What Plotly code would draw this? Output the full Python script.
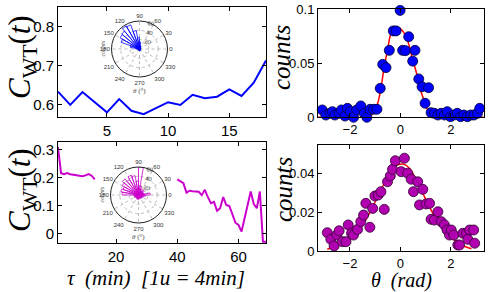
import plotly.graph_objects as go

# ---------------- data ----------------
tau_top = list(range(1, 19))
cwt_top = [0.634, 0.600, 0.633, 0.608, 0.581, 0.615, 0.585, 0.576, 0.592,
           0.607, 0.600, 0.626, 0.617, 0.621, 0.640, 0.623, 0.657, 0.714]

tau_bot = list(range(1, 70))
cwt_bot = ([0.31, 0.216, 0.212, 0.216, 0.212, 0.210, 0.207, 0.206, 0.205,
            0.208, 0.213, 0.207, 0.194]
           + [None] * 26
           + [0.194, 0.187, 0.180, 0.146, 0.153, 0.151, 0.150, 0.149, 0.137,
              0.156, 0.130, 0.108, 0.113, 0.081, 0.090, 0.130, 0.102, 0.098,
              0.069, 0.038, 0.030, 0.006, 0.054, 0.108, 0.150, 0.105, 0.090,
              0.150, -0.030, -0.030])

theta_top = [-3.10, -2.96, -2.79, -2.70, -2.60, -2.43, -2.34, -2.20, -2.10, -1.99,
             -1.86, -1.73, -1.57, -1.43, -1.33, -1.20, -1.06, -0.93, -0.80, -0.70,
             -0.57, -0.44, -0.28, -0.17, -0.01, 0.09, 0.20, 0.33, 0.49, 0.58,
             0.73, 0.86, 0.98, 1.12, 1.22, 1.35, 1.49, 1.62, 1.75, 1.86,
             1.99, 2.12, 2.26, 2.39, 2.52, 2.66, 2.79, 2.92, 3.06, 3.15]
counts_top = [0.0068, 0.0021, 0.0037, 0.0052, 0.0021, 0.0037, 0.0068, 0.0012, 0.0083, 0.0052,
              0.0000, 0.0068, 0.0105, 0.0037, 0.0000, 0.0074, 0.0074, 0.0074, 0.0268, 0.0490,
              0.0460, 0.0620, 0.0800, 0.0800, 0.0990, 0.0620, 0.0617, 0.0746, 0.0520, 0.0620,
              0.0355, 0.0283, 0.0130, 0.0274, 0.0043, 0.0037, 0.0021, 0.0037, 0.0021, 0.0052,
              0.0006, 0.0021, 0.0037, 0.0006, 0.0021, 0.0006, 0.0021, 0.0021, 0.0037, 0.0083]

fit_theta_top = [-3.3, -1.40, -1.23, -1.04, -0.90, -0.77, -0.64, -0.51, -0.37, -0.24,
                 -0.04, 0.03, 0.23, 0.36, 0.49, 0.63, 0.76, 0.89, 1.02, 1.16, 1.29, 1.45, 3.3]
fit_counts_top = [0.0, 0.0, 0.0006, 0.005, 0.013, 0.027, 0.047, 0.062, 0.078, 0.0815,
                  0.0824, 0.0815, 0.0746, 0.0654, 0.053, 0.042, 0.028, 0.019, 0.0098, 0.0037,
                  0.0006, 0.0, 0.0]

theta_bot = [-2.90, -2.76, -2.63, -2.52, -2.43, -2.30, -2.16, -2.07, -1.94, -1.86,
             -1.70, -1.57, -1.46, -1.37, -1.21, -1.10, -1.01, -0.88, -0.77, -0.64,
             -0.51, -0.40, -0.31, -0.20, 0.03, 0.16, 0.29, 0.43, 0.52, 0.69,
             0.76, 0.89, 1.02, 1.16, 1.22, 1.35, 1.49, 1.62, 1.75, 1.85,
             1.95, 2.02, 2.12, 2.28, 2.35, 2.48, 2.62, 2.68, 2.75, 2.91, 2.95]
counts_bot = [0.0094, 0.0060, 0.0026, 0.0082, 0.0104, 0.0048, 0.0048, 0.0134, 0.0091, 0.0082,
              0.0111, 0.0151, 0.0185, 0.0245, 0.0122, 0.0219, 0.0283, 0.0288, 0.0305, 0.0214,
              0.0356, 0.0386, 0.0420, 0.0464, 0.0408, 0.0477, 0.0400, 0.0369, 0.0305, 0.0356,
              0.0237, 0.0317, 0.0242, 0.0245, 0.0163, 0.0159, 0.0202, 0.0151, 0.0134, 0.0108,
              0.0082, 0.0108, 0.0082, 0.0031, 0.0031, 0.0091, 0.0091, 0.0060, 0.0108, 0.0108, 0.0040]

fit_theta_bot = [-2.90, -2.03, -1.63, -1.23, -0.84, -0.57, -0.31, 0.09, 0.36, 0.63,
                 0.89, 1.22, 1.55, 1.95, 2.35, 2.82]
fit_counts_bot = [0.0009, 0.0057, 0.0108, 0.0194, 0.0297, 0.0365, 0.0425, 0.0447, 0.0425, 0.0365,
                  0.0297, 0.0210, 0.0140, 0.0080, 0.0036, 0.0012]

rose_angles = list(range(5, 360, 10))
rose_top = [3, 2, 3, 2, 3, 4, 6, 8, 15, 25, 40, 55, 57, 50, 48, 42, 20, 8,
            4, 3, 2, 3, 2, 3, 2, 3, 4, 3, 2, 3, 2, 3, 2, 3, 2, 3]
rose_bot = [25, 12, 10, 12, 15, 10, 14, 20, 60, 30, 42, 45, 38, 45, 40, 35, 38, 35,
            10, 8, 10, 7, 8, 6, 9, 8, 10, 7, 8, 6, 9, 8, 10, 8, 12, 15]

ang_ticks = list(range(0, 360, 30))
ang_labels = [str(a) for a in ang_ticks]

BLUE = "#0000FF"
MAG = "#CC00CC"
MAGM = "#B000B0"
W, H = 491, 292


def px(x):
    return x / W


def py(y):
    return 1 - y / H


fig = go.Figure()

fig.add_trace(go.Scatter(x=tau_top, y=cwt_top, mode="lines",
                         line=dict(color=BLUE, width=2), xaxis="x", yaxis="y"))
fig.add_trace(go.Scatter(x=tau_bot, y=cwt_bot, mode="lines",
                         line=dict(color=MAG, width=2), xaxis="x2", yaxis="y2",
                         connectgaps=False))
fig.add_trace(go.Scatter(x=fit_theta_top, y=fit_counts_top, mode="lines",
                         line=dict(color="#FF0000", width=1.5, shape="spline"),
                         xaxis="x3", yaxis="y3"))
fig.add_trace(go.Scatter(x=theta_top, y=counts_top, mode="markers",
                         marker=dict(color=BLUE, size=10, line=dict(color="#000033", width=0.8)),
                         xaxis="x3", yaxis="y3", cliponaxis=False))
fig.add_trace(go.Scatter(x=fit_theta_bot, y=fit_counts_bot, mode="lines",
                         line=dict(color="#FF0000", width=1.5, shape="spline"),
                         xaxis="x4", yaxis="y4"))
fig.add_trace(go.Scatter(x=theta_bot, y=counts_bot, mode="markers",
                         marker=dict(color=MAGM, size=10, line=dict(color="#300030", width=0.8)),
                         xaxis="x4", yaxis="y4", cliponaxis=False))

fig.add_trace(go.Barpolar(r=rose_top, theta=rose_angles, width=[10] * 36,
                          marker=dict(color="rgba(0,0,0,0)", line=dict(color=BLUE, width=0.8)),
                          subplot="polar"))
fig.add_trace(go.Barpolar(r=rose_bot, theta=rose_angles, width=[10] * 36,
                          marker=dict(color="rgba(0,0,0,0)", line=dict(color=MAG, width=0.8)),
                          subplot="polar2"))

axis_common = dict(showgrid=False, zeroline=False, showline=True, linecolor="black",
                   linewidth=1, mirror="allticks", ticks="inside", ticklen=4,
                   tickcolor="black", tickfont=dict(family="Liberation Sans, Arial", size=15,
                                                     color="black"))
axis_small = dict(axis_common)
axis_small["tickfont"] = dict(family="Liberation Sans, Arial", size=13, color="black")

xl0, xl1 = px(58), px(266)
xr0, xr1 = px(318), px(484)

layout = dict(
    width=W, height=H, margin=dict(l=0, r=0, t=0, b=0, autoexpand=False),
    paper_bgcolor="white", plot_bgcolor="white", showlegend=False,
    xaxis=dict(axis_common, domain=[xl0, xl1], range=[1, 18], tickvals=[5, 10, 15],
               anchor="y"),
    yaxis=dict(axis_common, domain=[py(117), py(7)], range=[0.569, 0.851],
               tickvals=[0.6, 0.7, 0.8], anchor="x"),
    xaxis2=dict(axis_common, domain=[xl0, xl1], range=[1, 69], tickvals=[20, 40, 60],
                anchor="y2"),
    yaxis2=dict(axis_common, domain=[py(243.3), py(142)], range=[-0.036, 0.328],
                tickvals=[0, 0.1, 0.2, 0.3], anchor="x2"),
    xaxis3=dict(axis_small, domain=[xr0, xr1], range=[-3.27, 3.32], tickvals=[-2, 0, 2],
                anchor="y3"),
    yaxis3=dict(axis_small, domain=[py(117.3), py(9.3)], range=[0, 0.1],
                tickvals=[0, 0.05, 0.1], ticktext=["0", "0.05", "0.1"], anchor="x3"),
    xaxis4=dict(axis_small, domain=[xr0, xr1], range=[-3.27, 3.32], tickvals=[-2, 0, 2],
                anchor="y4"),
    yaxis4=dict(axis_small, domain=[py(251), py(145)], range=[0, 0.0545],
                tickvals=[0, 0.02, 0.04], ticktext=["0", "0.02", "0.04"], anchor="x4"),
)

polar_common = dict(
    bgcolor="white",
    angularaxis=dict(type="linear", thetaunit="degrees", tickvals=ang_ticks,
                     ticktext=ang_labels, direction="counterclockwise",
                     rotation=0, showline=True, linecolor="#222222", linewidth=1,
                     gridcolor="#BBBBBB", griddash="dot", ticks="",
                     tickfont=dict(family="Liberation Sans, Arial", size=6, color="#333333")),
    radialaxis=dict(range=[0, 60], tickvals=[20, 40, 60], angle=80, showline=False,
                    ticks="", gridcolor="#BBBBBB", griddash="dot",
                    tickfont=dict(family="Liberation Sans, Arial", size=6, color="#333333")),
)
layout["polar"] = dict(polar_common, domain=dict(x=[px(111.5), px(167.5)], y=[py(77), py(21)]))
layout["polar2"] = dict(polar_common, domain=dict(x=[px(110.5), px(166.5)], y=[py(223), py(167)]))

fig.update_layout(**layout)

serif = "Liberation Serif, DejaVu Serif, serif"


def A(x, y, text, size, angle=0, color="black"):
    return dict(x=px(x), y=py(y), text=text, textangle=angle, showarrow=False,
                xref="paper", yref="paper", xanchor="center", yanchor="middle",
                font=dict(family=serif, size=size, color=color))


ann = []
ylab = "<i>C</i><sub>WT</sub>(<i>t</i>)"
ann.append(A(22, 57, ylab, 31, -90))
ann.append(A(22, 190, ylab, 31, -90))
ann.append(A(156, 278, "<i>τ  (min)  [1u = 4min]</i>", 21))
ann.append(A(401, 280, "<i>θ  (rad)</i>", 20))
ann.append(A(281, 58, "<i>counts</i>", 25, -90))
ann.append(A(283, 190, "<i>counts</i>", 25, -90))
for cx, cy in [(139.5, 49), (138.5, 195)]:
    ann.append(A(cx - 37, cy, "<i>counts</i>", 6, -90, "#444444"))
    ann.append(A(cx, cy + 42, "<i>θ</i> (°)", 7, 0, "#444444"))
fig.update_layout(annotations=ann)

fig.write_html("out.html", config={"displayModeBar": False},
               post_script="document.body.style.margin='0px';")
